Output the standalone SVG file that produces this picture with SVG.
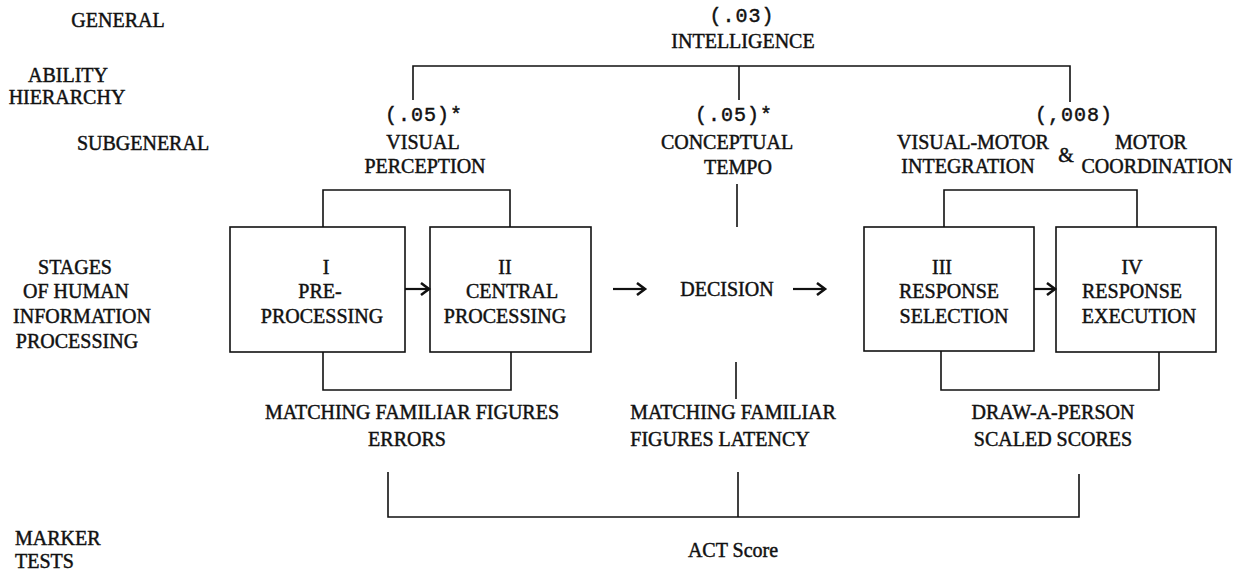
<svg xmlns="http://www.w3.org/2000/svg" width="1236" height="572" viewBox="0 0 1236 572">
<style>
text{font-family:"Liberation Serif","Times New Roman",serif;font-size:20px;fill:#111;stroke:#111;stroke-width:0.45;text-anchor:middle}
.l{text-anchor:start}
.m{font-family:"Liberation Mono","Courier New",monospace;font-size:20px;letter-spacing:1px}
.box{fill:none;stroke:#111;stroke-width:1.6}
.c{fill:none;stroke:#111;stroke-width:1.6}
.a{fill:none;stroke:#111;stroke-width:2.2;marker-end:url(#ah)}
</style>
<defs>
<marker id="ah" markerUnits="userSpaceOnUse" markerWidth="14" markerHeight="16" viewBox="-10 -8 12 16" refX="0" refY="0" orient="auto">
<path d="M-8,-6 L0,0 L-8,6" fill="none" stroke="#111" stroke-width="2.6"/>
</marker>
</defs>
<rect width="1236" height="572" fill="#fff"/>

<g id="row-labels">
<text x="118" y="27">GENERAL</text>
<text x="68" y="82">ABILITY</text>
<text x="67" y="104">HIERARCHY</text>
<text x="143" y="150">SUBGENERAL</text>
<text x="75" y="274">STAGES</text>
<text x="76" y="298">OF HUMAN</text>
<text x="82" y="323">INFORMATION</text>
<text x="77" y="348">PROCESSING</text>
<text class="l" x="15" y="545">MARKER</text>
<text class="l" x="15" y="568">TESTS</text>
</g>

<g id="intelligence">
<text class="m" x="742" y="22">(.03)</text>
<text x="743" y="48">INTELLIGENCE</text>
</g>

<g id="visual-perception">
<text class="m" x="424" y="121">(.05)*</text>
<text x="423" y="149">VISUAL</text>
<text x="425" y="173">PERCEPTION</text>
</g>

<g id="conceptual-tempo">
<text class="m" x="734" y="121">(.05)*</text>
<text x="727" y="149">CONCEPTUAL</text>
<text x="738" y="174">TEMPO</text>
</g>

<g id="visual-motor">
<text class="m" x="1074" y="121">(,008)</text>
<text x="973" y="149">VISUAL-MOTOR</text>
<text x="968" y="173">INTEGRATION</text>
<text x="1066" y="162">&amp;</text>
<text x="1151" y="149">MOTOR</text>
<text x="1157" y="173">COORDINATION</text>
</g>

<g id="stage-1">
<rect class="box" x="230" y="227" width="175" height="125"/>
<text x="326" y="274">I</text>
<text x="320" y="298">PRE-</text>
<text x="322" y="323">PROCESSING</text>
</g>

<g id="stage-2">
<rect class="box" x="430" y="227" width="161" height="125"/>
<text x="505" y="274">II</text>
<text x="512" y="298">CENTRAL</text>
<text x="505" y="323">PROCESSING</text>
</g>

<g id="decision">
<text x="727" y="296">DECISION</text>
</g>

<g id="stage-3">
<rect class="box" x="864" y="227" width="170" height="124"/>
<text x="942" y="274">III</text>
<text x="949" y="298">RESPONSE</text>
<text x="954" y="323">SELECTION</text>
</g>

<g id="stage-4">
<rect class="box" x="1056" y="227" width="160" height="125"/>
<text x="1132" y="274">IV</text>
<text x="1132" y="298">RESPONSE</text>
<text x="1139" y="323">EXECUTION</text>
</g>

<g id="mff-errors">
<text x="412" y="419">MATCHING FAMILIAR FIGURES</text>
<text x="407" y="446">ERRORS</text>
</g>

<g id="mff-latency">
<text x="733" y="419">MATCHING FAMILIAR</text>
<text x="720" y="446">FIGURES LATENCY</text>
</g>

<g id="draw-a-person">
<text x="1053" y="419">DRAW-A-PERSON</text>
<text x="1053" y="446">SCALED SCORES</text>
</g>

<g id="act-score">
<text x="733" y="557">ACT Score</text>
</g>

<g id="connectors">
<path class="c" d="M413,100 V66 H1070 V102 M739,66 V100"/>
<path class="c" d="M737,184 V227"/>
<path class="c" d="M323,227 V190 H510 V227"/>
<path class="c" d="M944,227 V190 H1137 V227"/>
<path class="c" d="M323,352 V390 H511 V352"/>
<path class="c" d="M941,351 V390 H1159 V352"/>
<path class="c" d="M736,362 V399"/>
<path class="c" d="M388,472 V517 H1079 V474 M738,472 V517"/>
<line class="a" x1="405" y1="289" x2="429" y2="289"/>
<line class="a" x1="613" y1="289" x2="645" y2="289"/>
<line class="a" x1="793" y1="289" x2="825" y2="289"/>
<line class="a" x1="1034" y1="289" x2="1055" y2="289"/>
</g>
</svg>
